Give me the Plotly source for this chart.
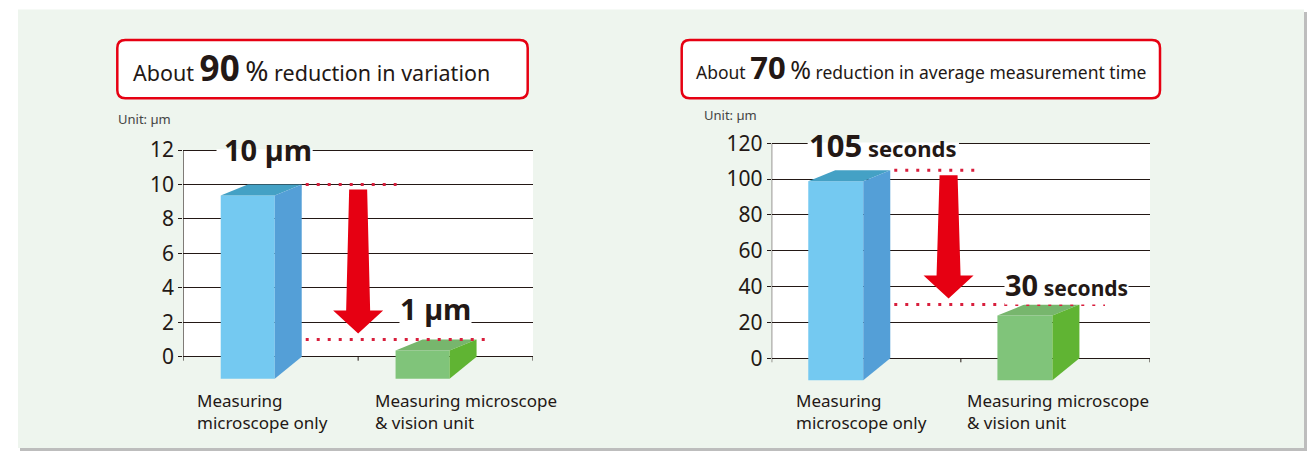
import plotly.graph_objects as go

W, H = 1307, 451

# ---------------- data ----------------
categories = ["Measuring<br>microscope only", "Measuring microscope<br>& vision unit"]
variation_um = [10, 1]
time_s = [105, 30]
variation_ticks = [0, 2, 4, 6, 8, 10, 12]
time_ticks = [0, 20, 40, 60, 80, 100, 120]
title_left = ("About <span style='font-size:35px'><b>90</b></span> "
              "<span style='font-size:28px'>%</span> reduction in variation")
title_right = ("About <span style='font-size:31px'><b>70</b></span> "
               "<span style='font-size:25px'>%</span> reduction in average measurement time")
unit_label = "Unit: µm"
labels_left = ["<b>10 µm</b>", "<b>1 µm</b>"]
labels_right = ["<b><span style='font-size:31px'>105</span></b><b><span style='font-size:22px'> seconds</span></b>",
                "<b>30</b><b><span style='font-size:21px'> seconds</span></b>"]

# ---------------- style ----------------
FONT = "Noto Sans"
INK = "#231815"
RED = "#e60012"
DOT = "#d81e3c"
PANEL = "#eef5ee"
BAR_COLORS = [dict(front="#74c9f1", side="#549fd7", top="#44a1c5"),
              dict(front="#80c47a", side="#60b433", top="#77b66d")]

cfg_left = dict(x0=183.3, x1=533.0, y0=356.7, sy=17.22, top=148.0, bottom=386.0,
                off=-50, fw=54, dep=27, drop_top=11, drop_bot=22,
                arrow_x=1.0, hi_end=1.22, lo_end=1.76, cover=(0.19, 0.74),
                lab_pos=[(268, 150), (435, 308)], unit_pos=(116, 119),
                cat_x=[195, 372.7])
cfg_right = dict(x0=771.7, x1=1150.0, y0=358.3, sy=1.792, top=141.3, bottom=386.0,
                 off=-58, fw=55, dep=27, drop_top=11, drop_bot=22,
                 arrow_x=0.935, hi_end=1.093, lo_end=1.762, cover=(0.19, 0.99),
                 lab_pos=[(883, 145), (1066, 284)], unit_pos=(702, 115),
                 cat_x=[794, 965])

fig = go.Figure()
shapes = []
annotations = []

# background panel with shadow
shapes.append(dict(type="rect", xref="paper", yref="paper", x0=20 / W, x1=1307 / W,
                   y0=1 - 451 / H, y1=1 - 12 / H, fillcolor="#bdbdbd", line=dict(width=0), layer="below"))
shapes.append(dict(type="rect", xref="paper", yref="paper", x0=18 / W, x1=1304 / W,
                   y0=1 - 448 / H, y1=1 - 9.5 / H, fillcolor=PANEL, line=dict(width=0), layer="below"))


def rounded_box(x0, y0, x1, y1, r):
    def P(x, y):
        return f"{x / W:.6f},{1 - y / H:.6f}"
    return (f"M {P(x0 + r, y0)} L {P(x1 - r, y0)} Q {P(x1, y0)} {P(x1, y0 + r)} "
            f"L {P(x1, y1 - r)} Q {P(x1, y1)} {P(x1 - r, y1)} L {P(x0 + r, y1)} "
            f"Q {P(x0, y1)} {P(x0, y1 - r)} L {P(x0, y0 + r)} Q {P(x0, y0)} {P(x0 + r, y0)} Z")


def add_chart(n, values, ticks, cfg, title, title_box, title_x, title_font, value_labels):
    xa, ya = ("x", "y") if n == 1 else (f"x{n}", f"y{n}")
    sx = (cfg["x1"] - cfg["x0"]) / 2.0
    sy = cfg["sy"]
    ymax = ticks[-1]
    fig.update_layout({
        f"xaxis{'' if n == 1 else n}": dict(domain=[cfg["x0"] / W, cfg["x1"] / W], range=[0, 2],
                                             showgrid=False, zeroline=False, showticklabels=False,
                                             showline=False, ticks="", fixedrange=True,
                                             automargin=False, anchor=ya),
        f"yaxis{'' if n == 1 else n}": dict(domain=[1 - cfg["bottom"] / H, 1 - cfg["top"] / H],
                                             range=[(cfg["y0"] - cfg["bottom"]) / sy,
                                                    (cfg["y0"] - cfg["top"]) / sy],
                                             tickvals=ticks, ticktext=[str(t) for t in ticks],
                                             showgrid=True, gridcolor=INK, gridwidth=1,
                                             zeroline=False, showline=False,
                                             ticks="outside", ticklen=4, tickcolor=INK,
                                             tickfont=dict(family=FONT, size=21, color=INK),
                                             fixedrange=True, automargin=False, anchor=xa),
    })
    shapes.append(dict(type="rect", xref=xa, yref=ya, x0=0, x1=2, y0=0, y1=ymax,
                       fillcolor="white", line=dict(width=0), layer="below"))
    shapes.append(dict(type="line", xref=xa, yref=ya, x0=0, x1=0, y0=0, y1=ymax,
                       line=dict(color=INK, width=1)))
    for xt in [0, 1, 2]:
        shapes.append(dict(type="line", xref=xa, yref=ya, x0=xt, x1=xt, y0=0, y1=-4 / sy,
                           line=dict(color=INK, width=1)))

    back_rights = []
    for i, v in enumerate(values):
        c = i + 0.5
        fl = c + cfg["off"] / sx
        fr = fl + cfg["fw"] / sx
        d = cfg["dep"] / sx
        bl, br = fl + d, fr + d
        ft = v - cfg["drop_top"] / sy
        fb = -cfg["drop_bot"] / sy
        col = BAR_COLORS[i]
        polys = [
            ([fl, fr, fr, fl, fl], [fb, fb, ft, ft, fb], col["front"]),
            ([fl, bl, br, fr, fl], [ft, v, v, ft, ft], col["top"]),
            ([fr, br, br, fr, fr], [ft, v, 0, fb, ft], col["side"]),
        ]
        for xs, ys, fc in polys:
            fig.add_trace(go.Scatter(x=xs, y=ys, xaxis=xa, yaxis=ya, mode="lines",
                                     fill="toself", fillcolor=fc, line=dict(width=0),
                                     hoverinfo="skip", showlegend=False))
        back_rights.append(br)

    hi, lo = values[0], values[1]
    start = back_rights[0] + 4 / sx
    for yv, xe in [(hi, cfg["hi_end"]), (lo, cfg["lo_end"])]:
        fig.add_trace(go.Scatter(x=[start, xe], y=[yv, yv], xaxis=xa, yaxis=ya, mode="lines",
                                 line=dict(color=DOT, width=3, dash="3px,8px"),
                                 hoverinfo="skip", showlegend=False))
    ax = cfg["arrow_x"]
    top = hi - 5 / sy
    tip = lo + 6 / sy
    head = tip + 23 / sy
    axs = [ax - 9 / sx, ax + 9 / sx, ax + 12 / sx, ax + 25 / sx, ax, ax - 25 / sx, ax - 12 / sx, ax - 9 / sx]
    ays = [top, top, head, head, tip, head, head, top]
    fig.add_trace(go.Scatter(x=axs, y=ays, xaxis=xa, yaxis=ya, mode="lines", fill="toself",
                             fillcolor=RED, line=dict(width=0), hoverinfo="skip", showlegend=False))

    shapes.append(dict(type="rect", xref=xa, yref=ya, x0=cfg["cover"][0], x1=cfg["cover"][1],
                       y0=ymax - 1.5 / sy, y1=ymax + 0.8 / sy, fillcolor="white",
                       line=dict(width=0), layer="above"))

    for k, (lab, (px, py)) in enumerate(zip(value_labels, cfg["lab_pos"])):
        annotations.append(dict(text=lab, xref="paper", yref="paper", x=px / W, y=1 - py / H,
                                xanchor="center", yanchor="middle", showarrow=False,
                                font=dict(family=FONT, size=29, color=INK),
                                bgcolor="white" if k == 1 else "rgba(0,0,0,0)", borderpad=0))

    annotations.append(dict(text=unit_label, xref="paper", yref="paper",
                            x=cfg["unit_pos"][0] / W, y=1 - cfg["unit_pos"][1] / H,
                            xanchor="left", yanchor="middle", showarrow=False,
                            font=dict(family=FONT, size=13, color="#444444")))
    for cat, cx in zip(categories, cfg["cat_x"]):
        annotations.append(dict(text=cat, xref="paper", yref="paper", x=cx / W, y=1 - 387 / H,
                                xanchor="left", yanchor="top", align="left", showarrow=False,
                                font=dict(family=FONT, size=17, color=INK)))

    bx0, by0, bx1, by1 = title_box
    shapes.append(dict(type="path", xref="paper", yref="paper", path=rounded_box(bx0, by0, bx1, by1, 8),
                       fillcolor="white", line=dict(color=RED, width=2.5), layer="below"))
    annotations.append(dict(text=title, xref="paper", yref="paper", x=title_x / W, y=1 - 67 / H,
                            xanchor="left", yanchor="middle", showarrow=False,
                            font=title_font))


add_chart(1, variation_um, variation_ticks, cfg_left, title_left, (117.3, 40, 527.7, 98.3), 130.7,
          dict(family=FONT, size=21.5, color=INK), labels_left)
add_chart(2, time_s, time_ticks, cfg_right, title_right, (681.7, 40, 1160, 98.3), 694,
          dict(family=FONT, size=17.5, color=INK), labels_right)

fig.update_layout(width=W, height=H, autosize=False, margin=dict(l=0, r=0, t=0, b=0, pad=0),
                  paper_bgcolor="white", plot_bgcolor="rgba(0,0,0,0)",
                  shapes=shapes, annotations=annotations, showlegend=False,
                  font=dict(family=FONT, color=INK))

css_fix = ("var s=document.createElement('style');"
           "s.textContent='html,body{margin:0!important;padding:0!important;overflow:hidden!important;"
           "width:1307px;height:451px;} body>div{margin:0;padding:0;line-height:0;}';"
           "document.head.appendChild(s);")
fig.write_html("out.html", config={"displayModeBar": False}, post_script=css_fix)
